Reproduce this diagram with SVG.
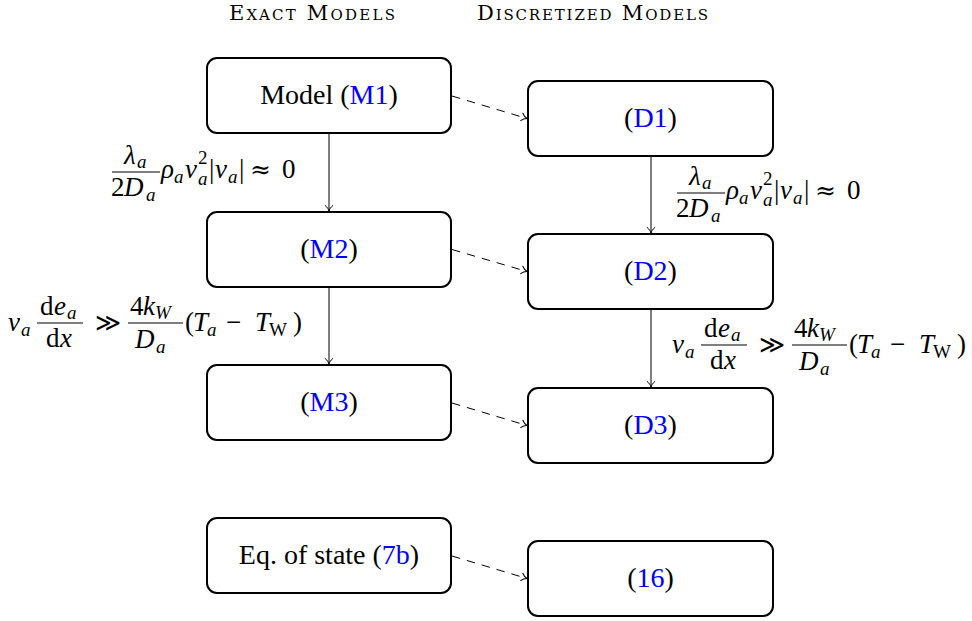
<svg xmlns="http://www.w3.org/2000/svg" width="972" height="621" viewBox="0 0 972 621">
<style>
  text { font-family: "Liberation Serif", "DejaVu Serif", serif; fill: #000; }
  .hdr { font-family: "DejaVu Serif", "Liberation Serif", serif; font-size: 21px; font-variant: small-caps; }
  .lbl { font-family: "Liberation Serif", "DejaVu Serif", serif; font-size: 28px; }
  .ref { fill: #0000ff; }
  .box { fill: #fff; stroke: #000; stroke-width: 2; }
  .mi { font-family: "Liberation Serif", "DejaVu Serif", serif; font-size: 27px; font-style: italic; }
  .rm { font-family: "Liberation Serif", "DejaVu Serif", serif; font-size: 27px; font-style: normal; }
  .op { font-family: "DejaVu Serif", "Liberation Serif", serif; font-size: 25px; font-style: normal; }
  .sub { font-family: "Liberation Serif", "DejaVu Serif", serif; font-size: 19px; font-style: italic; }
  .subrm { font-family: "Liberation Serif", "DejaVu Serif", serif; font-size: 19px; font-style: normal; }
  .bar { stroke: #000; stroke-width: 1.2; }
  .conn { stroke: #000; stroke-width: 1; fill: none; }
  .dash { stroke-dasharray: 8.5 7; }
</style>
<defs>
  <marker id="arr" markerUnits="userSpaceOnUse" viewBox="-7 -5 8 10" markerWidth="8" markerHeight="10" refX="0" refY="0" orient="auto">
    <path d="M-5.5,-3.8 C-3.8,-1.6 -1.6,-0.5 0,0 C-1.6,0.5 -3.8,1.6 -5.5,3.8" fill="none" stroke="#000" stroke-width="1" stroke-linecap="round"/>
  </marker>
</defs>

<g id="headers">
  <text class="hdr" x="229" y="20" textLength="166" lengthAdjust="spacing">Exact Models</text>
  <text class="hdr" x="477" y="20" textLength="231" lengthAdjust="spacing">Discretized Models</text>
</g>

<g id="connectors">
  <line class="conn" x1="329" y1="133" x2="329" y2="211" marker-end="url(#arr)"/>
  <line class="conn" x1="329" y1="287" x2="329" y2="364" marker-end="url(#arr)"/>
  <line class="conn" x1="651" y1="156" x2="651" y2="233" marker-end="url(#arr)"/>
  <line class="conn" x1="651" y1="309" x2="651" y2="387" marker-end="url(#arr)"/>
  <line class="conn dash" x1="452" y1="96" x2="527" y2="118.5" marker-end="url(#arr)"/>
  <line class="conn dash" x1="452" y1="249.5" x2="527" y2="271.5" marker-end="url(#arr)"/>
  <line class="conn dash" x1="452" y1="403" x2="527" y2="425.5" marker-end="url(#arr)"/>
  <line class="conn dash" x1="452" y1="556" x2="527" y2="578.5" marker-end="url(#arr)"/>
</g>

<g id="M1"><rect class="box" x="207" y="58" width="244" height="75" rx="10"/>
  <text class="lbl" x="329" y="104" text-anchor="middle">Model (<tspan class="ref">M1</tspan>)</text></g>
<g id="M2"><rect class="box" x="207" y="212" width="244" height="75" rx="10"/>
  <text class="lbl" x="329" y="258" text-anchor="middle">(<tspan class="ref">M2</tspan>)</text></g>
<g id="M3"><rect class="box" x="207" y="365" width="244" height="75" rx="10"/>
  <text class="lbl" x="329" y="411" text-anchor="middle">(<tspan class="ref">M3</tspan>)</text></g>
<g id="EoS"><rect class="box" x="207" y="518" width="244" height="75" rx="10"/>
  <text class="lbl" x="329" y="564" text-anchor="middle">Eq. of state (<tspan class="ref">7b</tspan>)</text></g>

<g id="D1"><rect class="box" x="528" y="81" width="245" height="75" rx="10"/>
  <text class="lbl" x="650.5" y="127" text-anchor="middle">(<tspan class="ref">D1</tspan>)</text></g>
<g id="D2"><rect class="box" x="528" y="234" width="245" height="75" rx="10"/>
  <text class="lbl" x="650.5" y="280" text-anchor="middle">(<tspan class="ref">D2</tspan>)</text></g>
<g id="D3"><rect class="box" x="528" y="388" width="245" height="75" rx="10"/>
  <text class="lbl" x="650.5" y="434" text-anchor="middle">(<tspan class="ref">D3</tspan>)</text></g>
<g id="D16"><rect class="box" x="528" y="541" width="245" height="75" rx="10"/>
  <text class="lbl" x="650.5" y="587" text-anchor="middle">(<tspan class="ref">16</tspan>)</text></g>

<g id="label-friction-left">
  <text class="mi" x="124" y="164">λ</text>
  <text class="sub" x="137" y="168">a</text>
  <line class="bar" x1="112" y1="172" x2="160" y2="172"/>
  <text class="rm" x="111" y="196">2</text>
  <text class="mi" x="124" y="196">D</text>
  <text class="sub" x="146" y="201">a</text>
  <text class="mi" x="161" y="178">ρ</text>
  <text class="sub" x="174" y="183">a</text>
  <text class="mi" x="185" y="178">v</text>
  <text class="subrm" x="198" y="164">2</text>
  <text class="sub" x="198" y="185">a</text>
  <text class="rm" x="209" y="178">|</text>
  <text class="mi" x="215" y="178">v</text>
  <text class="sub" x="228" y="183">a</text>
  <text class="rm" x="239" y="178">|</text>
  <text class="op" x="250" y="178">≈</text>
  <text class="rm" x="282" y="178">0</text>
</g>

<g id="label-friction-right" transform="translate(565,21)">
  <text class="mi" x="124" y="164">λ</text>
  <text class="sub" x="137" y="168">a</text>
  <line class="bar" x1="112" y1="172" x2="160" y2="172"/>
  <text class="rm" x="111" y="196">2</text>
  <text class="mi" x="124" y="196">D</text>
  <text class="sub" x="146" y="201">a</text>
  <text class="mi" x="161" y="178">ρ</text>
  <text class="sub" x="174" y="183">a</text>
  <text class="mi" x="185" y="178">v</text>
  <text class="subrm" x="198" y="164">2</text>
  <text class="sub" x="198" y="185">a</text>
  <text class="rm" x="209" y="178">|</text>
  <text class="mi" x="215" y="178">v</text>
  <text class="sub" x="228" y="183">a</text>
  <text class="rm" x="239" y="178">|</text>
  <text class="op" x="250" y="178">≈</text>
  <text class="rm" x="282" y="178">0</text>
</g>

<g id="label-heat-left">
  <text class="mi" x="8" y="331">v</text>
  <text class="sub" x="21" y="336">a</text>
  <line class="bar" x1="37" y1="323" x2="83" y2="323"/>
  <text class="rm" x="40" y="315">d</text>
  <text class="mi" x="54" y="315">e</text>
  <text class="sub" x="67" y="319">a</text>
  <text class="rm" x="46" y="347">d</text>
  <text class="mi" x="60" y="347">x</text>
  <text class="op" x="95" y="331">≫</text>
  <line class="bar" x1="128" y1="323" x2="183" y2="323"/>
  <text class="rm" x="130" y="315">4</text>
  <text class="mi" x="143" y="315">k</text>
  <text class="sub" x="155" y="319">W</text>
  <text class="mi" x="135" y="348">D</text>
  <text class="sub" x="156" y="353">a</text>
  <text class="rm" x="185" y="331">(</text>
  <text class="mi" x="193" y="331">T</text>
  <text class="sub" x="207" y="336">a</text>
  <text class="rm" x="226" y="331">−</text>
  <text class="mi" x="255" y="331">T</text>
  <text class="subrm" x="269" y="336">W</text>
  <text class="rm" x="293" y="331">)</text>
</g>

<g id="label-heat-right" transform="translate(664,22)">
  <text class="mi" x="8" y="331">v</text>
  <text class="sub" x="21" y="336">a</text>
  <line class="bar" x1="37" y1="323" x2="83" y2="323"/>
  <text class="rm" x="40" y="315">d</text>
  <text class="mi" x="54" y="315">e</text>
  <text class="sub" x="67" y="319">a</text>
  <text class="rm" x="46" y="347">d</text>
  <text class="mi" x="60" y="347">x</text>
  <text class="op" x="95" y="331">≫</text>
  <line class="bar" x1="128" y1="323" x2="183" y2="323"/>
  <text class="rm" x="130" y="315">4</text>
  <text class="mi" x="143" y="315">k</text>
  <text class="sub" x="155" y="319">W</text>
  <text class="mi" x="135" y="348">D</text>
  <text class="sub" x="156" y="353">a</text>
  <text class="rm" x="185" y="331">(</text>
  <text class="mi" x="193" y="331">T</text>
  <text class="sub" x="207" y="336">a</text>
  <text class="rm" x="226" y="331">−</text>
  <text class="mi" x="255" y="331">T</text>
  <text class="subrm" x="269" y="336">W</text>
  <text class="rm" x="293" y="331">)</text>
</g>
</svg>
